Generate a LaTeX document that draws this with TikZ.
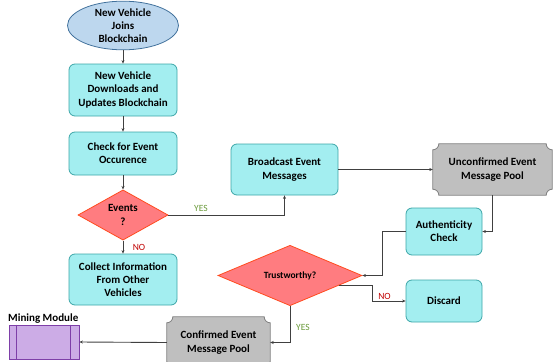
\documentclass[tikz,border=0pt]{standalone}
\usepackage{fontspec}
\setmainfont{Carlito}
\usetikzlibrary{shapes.geometric,calc,backgrounds,arrows.meta}
\definecolor{boxfill}{HTML}{A3EEF0}
\definecolor{boxline}{HTML}{3CA6A8}
\definecolor{startfill}{HTML}{BDD7EE}
\definecolor{startline}{HTML}{41719C}
\definecolor{decfill}{HTML}{FF7C80}
\definecolor{decline}{HTML}{FF4B1F}
\definecolor{poolfill}{HTML}{BFBFBF}
\definecolor{poolline}{HTML}{808080}
\definecolor{minefill}{HTML}{CCACE6}
\definecolor{mineline}{HTML}{7E3FA8}
\definecolor{yescol}{HTML}{6A9A3A}
\definecolor{nocol}{HTML}{C00000}
\definecolor{wire}{HTML}{404040}
\tikzset{
  x=1pt, y=1pt,
  base/.style={font=\fontsize{11}{13.3}\selectfont\bfseries, align=center, inner sep=0pt},
  startnode/.style={base, ellipse, draw=startline, fill=startfill, line width=0.8pt},
  procbox/.style={base, rectangle, rounded corners=6pt, draw=boxline, fill=boxfill, line width=0.8pt, minimum width=108pt},
  decision/.style={base, diamond, draw=decline, fill=decfill, line width=0.8pt},
  poolnode/.style={base, minimum width=#1, minimum height=51pt},
  flow/.style={draw=wire, line width=0.9pt, -{Stealth[length=3.5pt,width=3pt]}},
  yeslabel/.style={text=yescol, font=\fontsize{9.5}{10}\selectfont, inner sep=0pt},
  nolabel/.style={text=nocol, font=\fontsize{9.5}{10}\selectfont, inner sep=0pt},
}
% plaque outline (concave corners) around a named node
\newcommand\plaqueshape[1]{%
  \begin{pgfonlayer}{background}
  \filldraw[fill=poolfill, draw=poolline, line width=0.8pt]
    ($(#1.north west)+(6pt,0)$) arc[start angle=0, end angle=-90, radius=6pt]
    -- ($(#1.south west)+(0,6pt)$) arc[start angle=90, end angle=0, radius=6pt]
    -- ($(#1.south east)+(-6pt,0)$) arc[start angle=180, end angle=90, radius=6pt]
    -- ($(#1.north east)+(0,-6pt)$) arc[start angle=270, end angle=180, radius=6pt]
    -- cycle;
  \end{pgfonlayer}}
\begin{document}
\begin{tikzpicture}
\useasboundingbox (0,0) rectangle (556,-361);

% main column
\node[startnode, minimum width=111pt, minimum height=47pt] (join) at (123,-25.5) {New Vehicle\\Joins\\Blockchain};
\node[procbox, minimum height=52pt] (download) at (123,-90) {New Vehicle\\Downloads and\\Updates Blockchain};
\node[procbox, minimum height=43pt] (check) at (123,-153.5) {Check for Event\\Occurence};
\node[decision, minimum width=90pt, minimum height=50pt] (events) at (123,-215) {Events\\?};
\node[procbox, minimum height=51pt] (collect) at (123,-279.5) {Collect Information\\From Other\\Vehicles};

% event dissemination
\node[procbox, minimum width=107pt, minimum height=51pt] (broadcast) at (284.5,-169.5) {Broadcast Event\\Messages};
\node[poolnode=119pt] (unconf) at (492.5,-169.5) {Unconfirmed Event\\Message Pool};
\plaqueshape{unconf}
\node[procbox, minimum width=76pt, minimum height=47pt] (auth) at (444,-231.5) {Authenticity\\Check};
\node[decision, minimum width=144pt, minimum height=51pt, font=\fontsize{9.5}{11}\selectfont\bfseries] (trust) at (290,-275.5) {Trustworthy?};
\node[procbox, minimum width=76pt, minimum height=42pt] (discard) at (444,-301) {Discard};
\node[poolnode=103pt] (conf) at (218.5,-342.5) {Confirmed Event\\Message Pool};
\plaqueshape{conf}

% mining module
\node[draw=mineline, fill=minefill, line width=0.8pt, minimum width=70pt, minimum height=34pt, inner sep=0pt] (mine) at (44,-342) {};
\draw[mineline, line width=0.8pt] ($(mine.north west)+(8pt,0)$) -- ($(mine.south west)+(8pt,0)$);
\draw[mineline, line width=0.8pt] ($(mine.north east)+(-9pt,0)$) -- ($(mine.south east)+(-9pt,0)$);
\node[base, anchor=south west] (minelabel) at (8,-324) {Mining Module};

% connectors
\draw[flow] (join) -- (download);
\draw[flow] (download) -- (check);
\draw[flow] (check) -- (events);
\draw[flow] (events) -- (collect);
\draw[flow] (events.east) -| (broadcast.south);
\draw[flow] (broadcast) -- (unconf);
\draw[flow] (unconf.south) |- (auth.east);
\draw[flow] (auth.west) -- ++(-23,0) |- (trust.east);
\coordinate (trustout) at ($(trust.east)!0.33!(trust.south)$);
\draw[flow] (trustout) -- ++(34,0) |- (discard.west);
\draw[flow] (trust.south) |- (conf.east);
\draw[flow] (conf.west) -- (mine.east);

% branch labels
\node[yeslabel] (yes1) at (201,-208.5) {YES};
\node[nolabel] (no1) at (139,-247) {NO};
\node[nolabel] (no2) at (384.5,-296) {NO};
\node[yeslabel] (yes2) at (303,-327) {YES};
\end{tikzpicture}
\end{document}
